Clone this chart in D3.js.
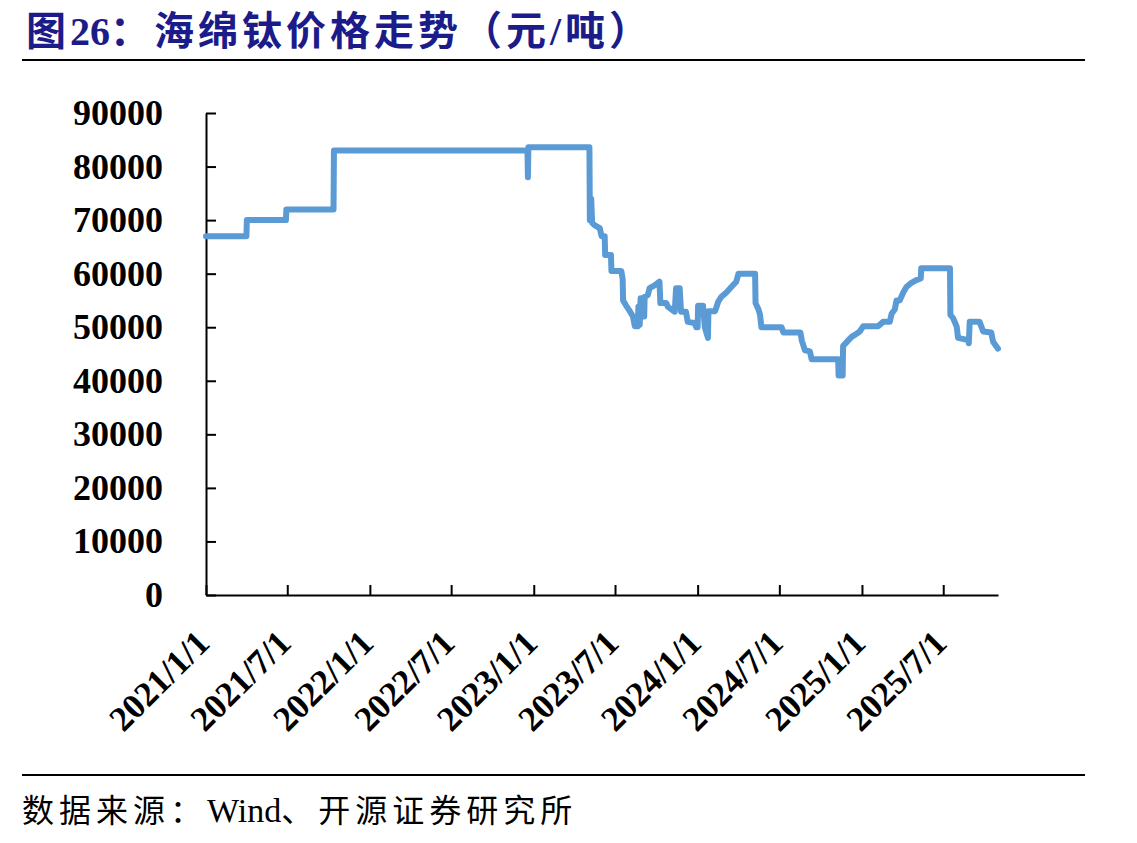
<!DOCTYPE html>
<html>
<head>
<meta charset="utf-8">
<script src="https://cdn.jsdelivr.net/npm/d3@7"></script>
<style>
  body { margin: 0; background: #fff; }
  svg { display: block; }
</style>
</head>
<body>
<svg id="chart" width="1137" height="843"></svg>
<script>
// Sponge titanium price (yuan/ton)
const dates = [
  '2021-01-01', '2021-04-01', '2021-04-02', '2021-06-28', '2021-06-29', '2021-10-12', '2021-10-13',
  '2022-12-18', '2022-12-19', '2022-12-20',
  '2023-05-05', '2023-05-06', '2023-05-09', '2023-05-11', '2023-05-17', '2023-05-28', '2023-06-01',
  '2023-06-08', '2023-06-09', '2023-06-22', '2023-06-23', '2023-07-15', '2023-07-18', '2023-07-19',
  '2023-07-26', '2023-08-03', '2023-08-10', '2023-08-14', '2023-08-21', '2023-08-22', '2023-08-25',
  '2023-08-27', '2023-09-03', '2023-09-04', '2023-09-05', '2023-09-12', '2023-09-16', '2023-09-27',
  '2023-10-08', '2023-10-10', '2023-10-23', '2023-10-27', '2023-11-11', '2023-11-14', '2023-11-22',
  '2023-11-25', '2023-12-06', '2023-12-10', '2023-12-25', '2023-12-29',
  '2024-01-01', '2024-01-02', '2024-01-13', '2024-01-17', '2024-01-24', '2024-01-25', '2024-02-09',
  '2024-02-16', '2024-02-23', '2024-03-05', '2024-03-16', '2024-03-27', '2024-04-01', '2024-05-08',
  '2024-05-09', '2024-05-16', '2024-05-19', '2024-05-22', '2024-07-06', '2024-07-10', '2024-08-17',
  '2024-08-20', '2024-08-27', '2024-09-07', '2024-09-11', '2024-11-09', '2024-11-10', '2024-11-19',
  '2024-11-20', '2024-12-01', '2024-12-09', '2024-12-20', '2024-12-27',
  '2025-01-04', '2025-02-06', '2025-02-17', '2025-03-04', '2025-03-08', '2025-03-15', '2025-03-19',
  '2025-03-26', '2025-04-03', '2025-04-10', '2025-04-21', '2025-05-02', '2025-05-12', '2025-05-13',
  '2025-07-16', '2025-07-17', '2025-07-23', '2025-07-31', '2025-08-03', '2025-08-26', '2025-08-27',
  '2025-08-29', '2025-09-20', '2025-09-28', '2025-10-16', '2025-10-20', '2025-10-31'
];
const prices = [
  67000, 67000, 70000, 70000, 72000, 72000, 83000,
  83000, 78000, 83600,
  83600, 70000, 74000, 69500, 69000, 68500, 67000,
  67000, 63500, 63500, 60500, 60500, 59000, 55000,
  54000, 53000, 52000, 50200, 50200, 53800, 50500,
  55400, 55400, 52000, 55700, 56000, 57300, 57800,
  58500, 54500, 54500, 53800, 52900, 57300, 57300,
  52900, 52900, 51000, 50800, 50000,
  50000, 54000, 54000, 50000, 48000, 53000, 53000,
  54800, 55700, 56500, 57500, 58500, 60000, 60000,
  54500, 53200, 52300, 50000, 50000, 49000, 49000,
  47500, 45700, 45500, 44000, 44000, 41000, 41000,
  46500, 47500, 48200, 48800, 49200,
  50200, 50200, 51000, 51000, 52500, 53300, 55000,
  55000, 56500, 57500, 58300, 58800, 59100, 61000,
  61000, 52300, 51700, 50100, 48000, 47600, 47000,
  51000, 51000, 49200, 49000, 47300, 46000
];
const yTicks = [0, 10000, 20000, 30000, 40000, 50000, 60000, 70000, 80000, 90000];
const xTickDates = ['2021-01-01', '2021-07-01', '2022-01-01', '2022-07-01', '2023-01-01',
  '2023-07-01', '2024-01-01', '2024-07-01', '2025-01-01', '2025-07-01'];
const xTickLabels = ['2021/1/1', '2021/7/1', '2022/1/1', '2022/7/1', '2023/1/1',
  '2023/7/1', '2024/1/1', '2024/7/1', '2025/1/1', '2025/7/1'];

const parse = d3.timeParse('%Y-%m-%d');
const data = dates.map((d, i) => ({ date: parse(d), value: prices[i] }));

const svg = d3.select('#chart');
const serif = '"Liberation Serif", "Times New Roman", "Noto Sans CJK SC", serif';

// Title and rules
const title = svg.append('text')
  .attr('x', 26)
  .attr('y', 45)
  .attr('fill', '#1b1b8a')
  .style('font-family', serif)
  .style('font-weight', 'bold')
  .style('font-size', '40px');
title.append('tspan').style('letter-spacing', '4px').text('图');
title.append('tspan').text('26');
title.append('tspan').style('letter-spacing', '4px').text('：海绵钛价格走势（元/吨）');

svg.append('line')
  .attr('x1', 22).attr('x2', 1085)
  .attr('y1', 60).attr('y2', 60)
  .attr('stroke', '#000').attr('stroke-width', 2);

svg.append('line')
  .attr('x1', 22).attr('x2', 1085)
  .attr('y1', 775).attr('y2', 775)
  .attr('stroke', '#000').attr('stroke-width', 2);

// Source note
const note = svg.append('text')
  .attr('x', 22)
  .attr('y', 822)
  .attr('fill', '#000')
  .style('font-family', serif);
note.append('tspan').style('font-size', '32px').style('letter-spacing', '5px').text('数据来源：');
note.append('tspan').style('font-size', '34px').text('Wind');
note.append('tspan').style('font-size', '32px').style('letter-spacing', '5px').text('、开源证券研究所');

// Scales
const x = d3.scaleTime()
  .domain([parse('2021-01-01'), parse('2025-10-31')])
  .range([206, 998]);
const y = d3.scaleLinear()
  .domain([0, 90000])
  .range([595, 113]);

// Y axis (ticks point inward)
const yAxis = svg.append('g')
  .attr('transform', 'translate(206,0)')
  .call(d3.axisLeft(y).tickValues(yTicks).tickFormat(d3.format('d'))
    .tickSizeInner(-10).tickSizeOuter(0).tickPadding(43));
yAxis.select('.domain').attr('stroke', '#000').attr('stroke-width', 2);
yAxis.selectAll('.tick line').attr('stroke', '#000').attr('stroke-width', 2);
yAxis.selectAll('.tick text')
  .style('font-family', serif)
  .style('font-weight', 'bold')
  .style('font-size', '36px')
  .attr('fill', '#000');

// X axis (ticks inward, rotated labels)
const xAxis = svg.append('g')
  .attr('transform', 'translate(0,595)')
  .call(d3.axisBottom(x).tickValues(xTickDates.map(parse))
    .tickFormat((d, i) => xTickLabels[i])
    .tickSizeInner(-10).tickSizeOuter(0));
xAxis.select('.domain').attr('stroke', '#000').attr('stroke-width', 2);
xAxis.selectAll('.tick line').attr('stroke', '#000').attr('stroke-width', 2);
xAxis.selectAll('.tick text')
  .attr('y', 0).attr('dy', 0)
  .attr('text-anchor', 'end')
  .attr('transform', 'translate(5,50) rotate(-45)')
  .style('font-family', serif)
  .style('font-weight', 'bold')
  .style('font-size', '35px')
  .attr('fill', '#000');

// Price line
const line = d3.line()
  .x(d => x(d.date))
  .y(d => y(d.value));

svg.append('path')
  .datum(data)
  .attr('fill', 'none')
  .attr('stroke', '#5b9bd5')
  .attr('stroke-width', 6)
  .attr('stroke-linejoin', 'round')
  .attr('stroke-linecap', 'round')
  .attr('d', line);
</script>
</body>
</html>
